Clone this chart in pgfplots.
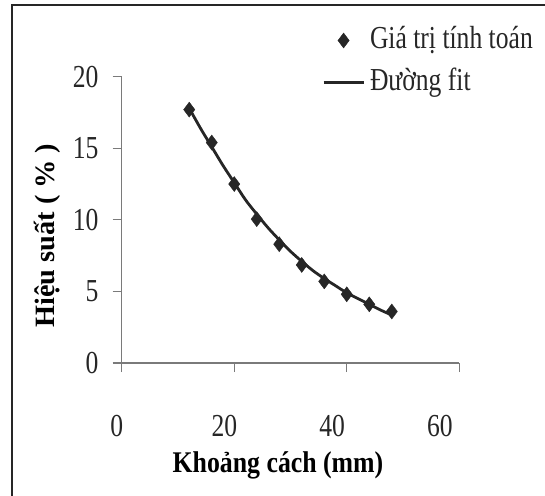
\documentclass[border=0pt]{standalone}
\usepackage{pgfplots}
\pgfplotsset{compat=1.18}
\usepackage{fontspec}
\setmainfont{Liberation Serif}[FakeStretch=0.8]
\newfontfamily\xlabfont{Liberation Serif}[FakeStretch=0.86]
\newfontfamily\ylabfont{Liberation Serif}[FakeStretch=1.01]
\definecolor{ink}{HTML}{262626}
\definecolor{axisgray}{HTML}{7A7A7A}

\begin{document}
\begin{tikzpicture}
  \path[use as bounding box] (0bp,0bp) rectangle (545bp,496bp);
  % frame of the scanned figure (left and top edges only)
  \draw[line width=2bp, ink] (12bp,-5bp) -- (12bp,491bp) -- (560bp,491bp);
  \begin{axis}[
    at={(121.7bp,133bp)}, anchor=south west,
    scale only axis, width=337.6bp, height=286.3bp,
    xmin=0, xmax=60, ymin=0, ymax=20,
    xtick={0,20,40,60}, ytick={0,5,10,15,20},
    axis x line*=bottom, axis y line*=left,
    axis line style={axisgray, line width=1.2bp},
    tick style={axisgray, line width=1.2bp},
    tick align=outside, major tick length=9bp,
    /pgf/number format/assume math mode=true,
    ticklabel style={font=\fontsize{32bp}{36bp}\selectfont, text=ink, inner sep=0pt},
    xticklabel style={anchor=base, yshift=-64bp, xshift={-5bp-4.8bp*\ticknum}},
    yticklabel style={anchor=east, xshift=-14bp},
    every axis x label/.style={at={(axis description cs:0.463,-0.384)}, anchor=base},
    every axis y label/.style={at={(axis description cs:-0.198,0.445)}, rotate=90, anchor=base},
    xlabel={\xlabfont\bfseries\fontsize{30bp}{34bp}\selectfont Khoảng cách (mm)},
    ylabel={\ylabfont\bfseries\fontsize{28bp}{32bp}\selectfont Hiệu suất ( \% )},
    legend image code/.code={\draw[mark repeat=2, mark phase=2, #1] plot coordinates {(0bp,0bp) (20bp,0bp) (40bp,0bp)};},
    legend style={draw=none, fill=none, inner sep=0pt, row sep=10bp,
      at={(200.3bp,338.7bp)}, anchor=north west,
      font=\fontsize{32bp}{36bp}\selectfont,
      nodes={inner sep=0pt, text height=24bp, text depth=8bp, text=ink}},
    legend cell align=left,
  ]
    \addplot[only marks, mark=diamond*, mark size=7.5bp, ink, mark options={fill=ink}] coordinates {
      (12,17.7) (16,15.4) (20,12.5) (24,10.05) (28,8.3)
      (32,6.85) (36,5.7) (40,4.8) (44,4.1) (48,3.6)
    };
    \addlegendentry{\hspace{5bp}Giá trị tính toán}
    \addplot[ink, line width=2.8bp, smooth, no marks] coordinates {
      (12,17.8) (14,16.4) (16,15.1) (18,13.8) (20,12.6) (22,11.4)
      (24,10.4) (26,9.45) (28,8.6) (30,7.8) (32,7.1) (34,6.45)
      (36,5.9) (38,5.4) (40,4.9) (42,4.5) (44,4.1) (46,3.7) (48,3.35)
    };
    \addlegendentry{\hspace{5bp}Đường fit}
  \end{axis}
\end{tikzpicture}
\end{document}
